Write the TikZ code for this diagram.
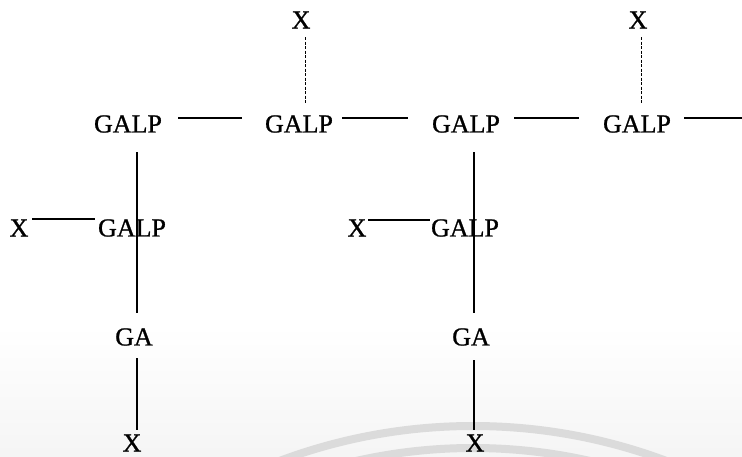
\documentclass[tikz,border=0pt]{standalone}
\usepackage{fontspec}
\setmainfont[FakeBold=0.9]{Liberation Serif}
\begin{document}
\begin{tikzpicture}[x=1pt,y=-1pt,
  lbl/.style={inner sep=0pt, font=\fontsize{26}{30}\selectfont},
  link/.style={line width=1.4pt},
  tie/.style={line width=0.9pt, dash pattern=on 3pt off 1.5pt},
  wmark/.style={black!14, line width=8pt}
]
\useasboundingbox (0,0) rectangle (742,457);

% faint background arcs at the foot of the page
\begin{scope}
  \clip (0,0) rectangle (742,457);
  \shade[top color=white, bottom color=black!4] (0,325) rectangle (742,457);
  \draw[wmark] (473,976) circle[radius=550pt];
  \draw[wmark] (473,976) circle[radius=528pt];
\end{scope}

% labels
\node[lbl] (xt1) at (301,20) {X};
\node[lbl] (xt2) at (638,20) {X};
\node[lbl] (g1) at (128,124) {GALP};
\node[lbl] (g2) at (299,124) {GALP};
\node[lbl] (g3) at (466,124) {GALP};
\node[lbl] (g4) at (637,124) {GALP};
\coordinate (edge) at (742,118);
\node[lbl] (xl) at (19,228) {X};
\node[lbl] (gl) at (132,228) {GALP};
\node[lbl] (xm) at (357,228) {X};
\node[lbl] (gm) at (465,228) {GALP};
\node[lbl] (al) at (134,337) {GA};
\node[lbl] (am) at (471,337) {GA};
\node[lbl] (bl) at (132,443) {X};
\node[lbl] (bm) at (475,443) {X};

% top chain
\draw[link, shorten <=16pt, shorten >=23pt] ([yshift=6pt]g1.east) -- ([yshift=6pt]g2.west);
\draw[link, shorten <=9pt, shorten >=24pt] ([yshift=6pt]g2.east) -- ([yshift=6pt]g3.west);
\draw[link, shorten <=14pt, shorten >=24pt] ([yshift=6pt]g3.east) -- ([yshift=6pt]g4.west);
\draw[link, shorten <=13pt] ([yshift=6pt]g4.east) -- (edge);

% dashed ties from the upper X
\draw[tie, shorten <=8.4pt, shorten >=12.4pt] ([xshift=4pt]xt1.south) -- ([xshift=4pt]xt1.south |- g2.north);
\draw[tie, shorten <=8.4pt, shorten >=12.4pt] ([xshift=3pt]xt2.south) -- ([xshift=3pt]xt2.south |- g4.north);

% side branches
\draw[link, shorten <=3.6pt, shorten >=3pt] ([yshift=9pt]xl.east) -- ([yshift=9pt]xl.east -| gl.west);
\draw[link, shorten <=1.6pt, shorten >=1pt] ([yshift=8pt]xm.east) -- ([yshift=8pt]xm.east -| gm.west);

% descending stems
\draw[link, shorten <=19.4pt, shorten >=15.4pt] ([xshift=9pt]g1.south) -- ([xshift=9pt]g1.south |- al.north);
\draw[link, shorten <=12.4pt, shorten >=4.4pt] ([xshift=3pt]al.south) -- ([xshift=3pt]al.south |- bl.north);
\draw[link, shorten <=19.4pt, shorten >=15.4pt] ([xshift=8pt]g3.south) -- ([xshift=8pt]g3.south |- am.north);
\draw[link, shorten <=14.4pt, shorten >=4.4pt] ([xshift=3pt]am.south) -- ([xshift=3pt]am.south |- bm.north);
\end{tikzpicture}
\end{document}
